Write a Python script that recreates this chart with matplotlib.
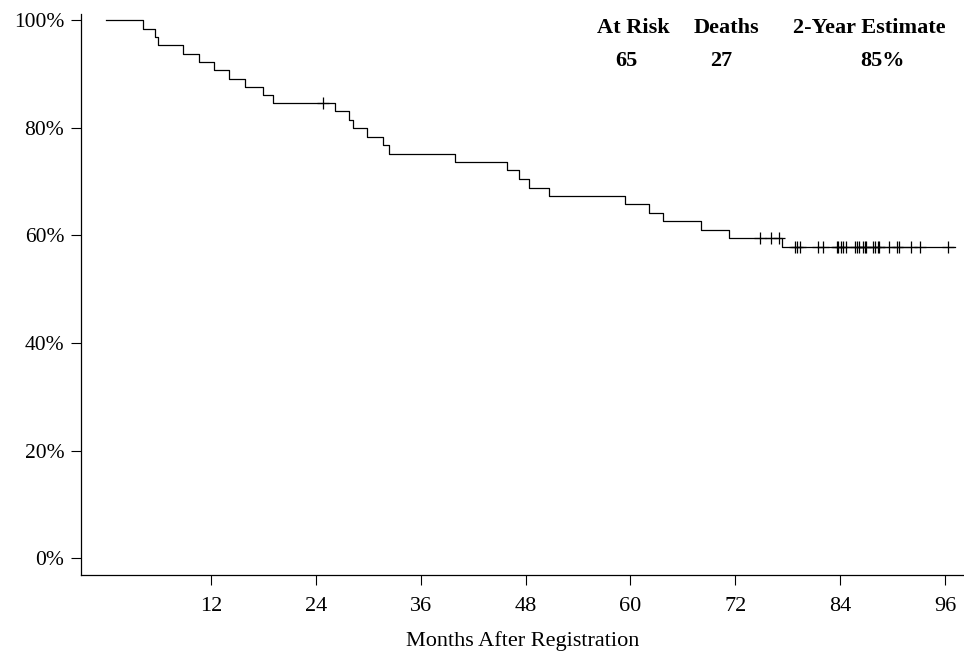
import numpy as np
import matplotlib
matplotlib.use("Agg")
import matplotlib.pyplot as plt

plt.rcParams["font.family"] = ["Liberation Serif", "DejaVu Serif"]

# death times (months) and survival (%) after each step
death_t = [0, 4.2, 5.6, 5.9, 8.8, 10.6, 12.3, 14.1, 15.9, 18.0, 19.1, 26.2, 27.8, 28.3,
           29.9, 31.7, 32.4, 39.9, 45.9, 47.2, 48.4, 50.7, 59.4, 62.1, 63.7, 68.1, 71.3, 77.4]
surv = [100, 98.5, 96.9, 95.4, 93.8, 92.3, 90.8, 89.2, 87.7, 86.2, 84.6, 83.1, 81.5, 79.9,
        78.3, 76.8, 75.2, 73.6, 72.1, 70.5, 68.9, 67.4, 65.8, 64.2, 62.7, 61.1, 59.5, 57.8]
last_t = 97.2

# censored observations (months)
cens_t = [24.8, 74.8, 76.1, 77.0, 78.8, 79.1, 79.4, 81.5, 82.0, 83.6, 83.8, 84.1, 84.3, 84.7,
          85.7, 85.9, 86.2, 86.6, 86.8, 87.0, 87.8, 88.0, 88.3, 88.5, 89.6, 90.5, 90.7,
          92.1, 93.2, 96.4]

xticks = [12, 24, 36, 48, 60, 72, 84, 96]
yticks = [0, 20, 40, 60, 80, 100]

headers = ["At Risk", "Deaths", "2-Year Estimate"]
values = ["65", "27", "85%"]

fig = plt.figure(figsize=(9.64, 6.6), dpi=100)
ax = fig.add_axes([0.084, 0.1295, 0.916, 0.8493])

xs = death_t + [last_t]
ys = surv + [surv[-1]]
ax.step(xs, ys, where="post", color="black", lw=0.9)

idx = np.searchsorted(death_t, cens_t, side="right") - 1
cens_y = [surv[i] for i in idx]
ax.plot(cens_t, cens_y, "+", color="black", ms=9, mew=0.9)

ax.set_xlim(-2.87, 98.18)
ax.set_ylim(-3.07, 101.2)
ax.set_xticks(xticks)
ax.set_yticks(yticks)
ax.set_yticklabels([f"{v}%" for v in yticks])
ax.tick_params(axis="x", length=7, width=0.8, pad=9, labelsize=16)
ax.tick_params(axis="y", length=7, width=0.8, pad=5, labelsize=15.5)
for s in ["top", "right"]:
    ax.spines[s].set_visible(False)
for s in ["left", "bottom"]:
    ax.spines[s].set_linewidth(0.9)

ax.set_xlabel("Months After Registration", fontsize=16, labelpad=11)

hx = [60.3, 71.0, 87.4]
vx = [59.6, 70.4, 88.8]
for h, x in zip(headers, hx):
    ax.text(x, 97.6, h, ha="center", va="baseline", fontsize=16, fontweight="bold")
for v, x in zip(values, vx):
    ax.text(x, 91.6, v, ha="center", va="baseline", fontsize=16, fontweight="bold")

fig.savefig("out.png", dpi=100)
